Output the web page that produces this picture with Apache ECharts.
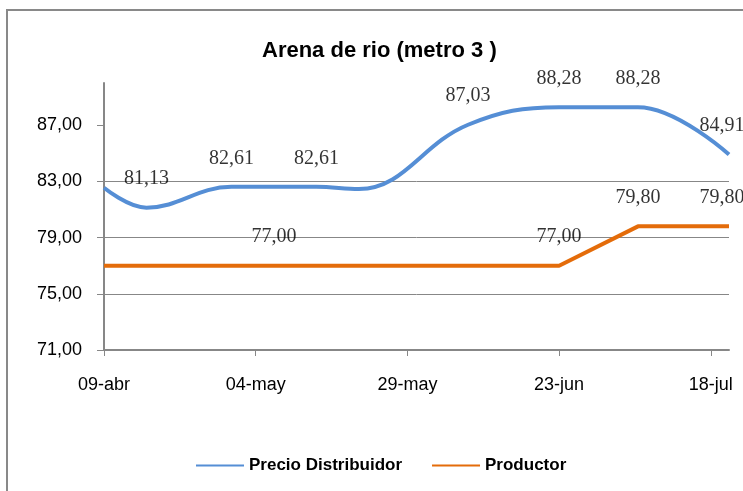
<!DOCTYPE html>
<html>
<head>
<meta charset="utf-8">
<script src="https://cdn.jsdelivr.net/npm/echarts@6/dist/echarts.min.js"></script>
<style>
  html, body { margin: 0; padding: 0; background: #fff; }
  #chart { width: 743px; height: 491px; }
</style>
</head>
<body>
<div id="chart"></div>
<script>
// eje x: días desde 09-abr
const tickDays = [0, 25, 50, 75, 100]
const tickLabels = ['09-abr', '04-may', '29-may', '23-jun', '18-jul']
const yTicks = [71, 75, 79, 83, 87]

// Precio Distribuidor
const distribDays = [0, 7, 21, 35, 42, 60, 75, 88, 103]
const distribValues = [82.55, 81.13, 82.61, 82.61, 82.45, 87.03, 88.28, 88.28, 84.91]
const distribLabeled = [false, true, true, true, false, true, true, true, true]

// Productor
const prodDays = [0, 28, 75, 88, 103]
const prodValues = [77.00, 77.00, 77.00, 79.80, 79.80]
const prodLabeled = [false, true, true, true, true]

const fmt = v => v.toFixed(2).replace('.', ',')

function lineData(days, values) {
  return days.map((d, i) => [d, values[i]])
}

// puntos invisibles que solo llevan la etiqueta
function labelData(days, values, labeled) {
  let out = []
  for (let i = 0; i < days.length; i++) {
    if (!labeled[i]) continue
    out.push({
      value: [days[i], values[i]],
      label: { offset: i === days.length - 1 ? [-7, 0] : [0, 0] }
    })
  }
  return out
}

const labelStyle = {
  show: true,
  position: 'top',
  distance: 18,
  fontFamily: 'Liberation Serif',
  fontSize: 20,
  color: '#000',
  formatter: p => fmt(p.value[1])
}

let chart = echarts.init(document.getElementById('chart'))
chart.setOption({
  animation: false,
  title: {
    text: 'Arena de rio (metro 3 )',
    left: 257,
    top: 35,
    textStyle: { fontFamily: 'Liberation Sans', fontSize: 22, fontWeight: 'bold', color: '#000' }
  },
  graphic: [{
    type: 'rect',
    shape: { x: 7, y: 10, width: 780, height: 520 },
    style: { fill: 'none', stroke: '#898989', lineWidth: 2 },
    silent: true
  }],
  legend: {
    left: 191,
    top: 452,
    icon: 'rect',
    itemWidth: 48,
    itemHeight: 2,
    itemGap: 30,
    textStyle: { fontFamily: 'Liberation Sans', fontSize: 17, fontWeight: 'bold', color: '#000' },
    data: ['Precio Distribuidor', 'Productor']
  },
  grid: { left: 104, right: 14, top: 83, bottom: 141 },
  xAxis: {
    type: 'value',
    min: 0,
    max: 103,
    axisLine: { lineStyle: { color: '#878787', width: 2 } },
    axisTick: { show: true, length: 6, customValues: tickDays, lineStyle: { color: '#878787' } },
    axisLabel: {
      customValues: tickDays,
      margin: 26,
      fontFamily: 'Liberation Sans',
      fontSize: 18,
      color: '#000',
      formatter: v => tickLabels[tickDays.indexOf(v)] || ''
    },
    splitLine: { show: false }
  },
  yAxis: {
    type: 'value',
    min: 71,
    max: 90,
    interval: 4,
    axisLine: { show: true, lineStyle: { color: '#878787', width: 2 } },
    axisTick: { show: true, length: 7, customValues: yTicks, lineStyle: { color: '#878787' } },
    axisLabel: {
      customValues: yTicks,
      margin: 22,
      fontFamily: 'Liberation Sans',
      fontSize: 18,
      color: '#000',
      formatter: v => fmt(v)
    },
    splitLine: { show: true, showMaxLine: false, lineStyle: { color: '#878787', width: 1 } }
  },
  series: [
    {
      name: 'Precio Distribuidor',
      type: 'line',
      smooth: 0.4,
      symbol: 'none',
      color: '#558ed5',
      lineStyle: { width: 4, color: '#558ed5' },
      data: lineData(distribDays, distribValues)
    },
    {
      name: 'Productor',
      type: 'line',
      smooth: false,
      symbol: 'none',
      color: '#e46c0a',
      lineStyle: { width: 4, color: '#e46c0a' },
      data: lineData(prodDays, prodValues)
    },
    {
      name: 'etiquetas1',
      type: 'scatter',
      symbolSize: 1,
      itemStyle: { color: 'rgba(0,0,0,0)' },
      label: labelStyle,
      silent: true,
      data: labelData(distribDays, distribValues, distribLabeled)
    },
    {
      name: 'etiquetas2',
      type: 'scatter',
      symbolSize: 1,
      itemStyle: { color: 'rgba(0,0,0,0)' },
      label: labelStyle,
      silent: true,
      data: labelData(prodDays, prodValues, prodLabeled)
    }
  ]
})
</script>
</body>
</html>
